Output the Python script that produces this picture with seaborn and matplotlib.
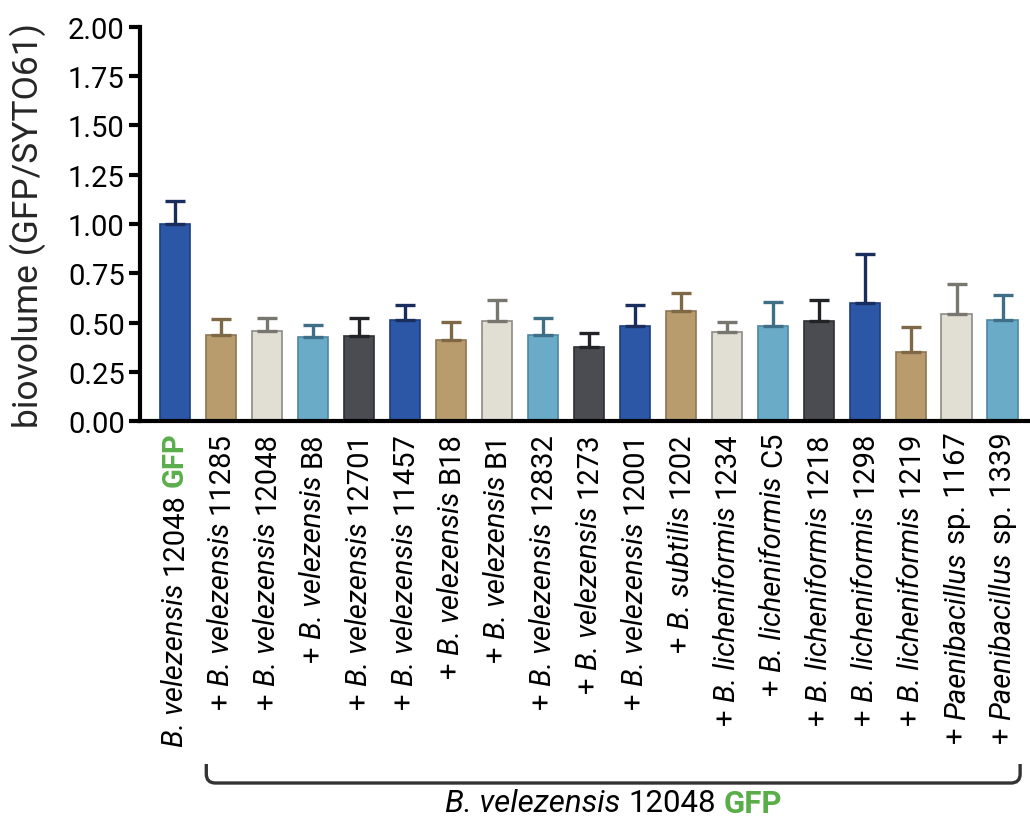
import numpy as np
import pandas as pd
import seaborn as sns
import matplotlib
matplotlib.use("Agg")
import matplotlib.pyplot as plt
from matplotlib.path import Path
from matplotlib.patches import PathPatch
import matplotlib.transforms as mtransforms

# ---------------- data ----------------
species = ["B. velezensis", "B. velezensis", "B. velezensis", "B. velezensis",
           "B. velezensis", "B. velezensis", "B. velezensis", "B. velezensis",
           "B. velezensis", "B. velezensis", "B. velezensis", "B. subtilis",
           "B. licheniformis", "B. licheniformis", "B. licheniformis",
           "B. licheniformis", "B. licheniformis", "Paenibacillus", "Paenibacillus"]
strains = ["12048", "11285", "12048", "B8", "12701", "11457", "B18", "B1", "12832",
           "1273", "12001", "1202", "1234", "C5", "1218", "1298", "1219",
           "sp. 1167", "sp. 1339"]
means = [1.00, 0.44, 0.46, 0.425, 0.435, 0.515, 0.41, 0.51, 0.44, 0.376,
         0.483, 0.557, 0.455, 0.483, 0.511, 0.601, 0.35, 0.545, 0.516]
errors = [0.115, 0.078, 0.063, 0.065, 0.090, 0.077, 0.093, 0.107, 0.084, 0.072,
          0.108, 0.096, 0.050, 0.120, 0.103, 0.248, 0.130, 0.150, 0.124]
bracket_label = ["B. velezensis", "12048", "GFP"]

fills = {"blue": "#2C57A6", "tan": "#B89C6E", "light": "#E1DED3",
         "lightblue": "#6AABC8", "dark": "#4A4C51"}
edges = {"blue": "#1D3E7E", "tan": "#8E7651", "light": "#8C8B86",
         "lightblue": "#4F86A2", "dark": "#2E3034"}
errcols = {"blue": "#1A2E5E", "tan": "#7E6846", "light": "#77766F",
           "lightblue": "#3F6F86", "dark": "#222326"}

n = len(means)
order5 = ["tan", "light", "lightblue", "dark", "blue"]
groups = ["blue"] + [order5[(i - 1) % 5] for i in range(1, n)]
ids = [f"c{i}" for i in range(n)]

df = pd.DataFrame({"id": ids, "mean": means, "err": errors, "grp": groups})

# ---------------- style ----------------
sns.set_theme(style="ticks")
plt.rcParams["font.family"] = ["Roboto", "DejaVu Sans"]
FS = 21

fig = plt.figure(figsize=(10.3, 8.2), dpi=100)
ax = fig.add_axes([0.136, 0.485, 0.862, 0.481])

sns.barplot(data=df, x="id", y="mean", hue="id",
            palette=[fills[g] for g in groups], width=0.66, legend=False,
            ax=ax, errorbar=None, saturation=1)

for p, g in zip(ax.patches, groups):
    p.set_edgecolor(edges[g])
    p.set_linewidth(1.2)

for i, (m, e, g) in enumerate(zip(means, errors, groups)):
    ax.errorbar(i, m, yerr=[[0], [e]], fmt="none", ecolor=errcols[g],
                elinewidth=2.4, capsize=7.5, capthick=2.4, zorder=1)

ax.set_ylim(0, 2.0)
ax.set_xlim(-0.76, 18.55)
ax.set_yticks(np.arange(0, 2.01, 0.25))
ax.set_yticklabels([f"{v:.2f}" for v in np.arange(0, 2.01, 0.25)], fontsize=FS)
ax.set_xticks([])
ax.set_xlabel("")
ax.set_ylabel("biovolume (GFP/SYTO61)", fontsize=25.5)
ax.yaxis.set_label_coords(-0.106, 0.5)
for s in ["top", "right"]:
    ax.spines[s].set_visible(False)
for s in ["left", "bottom"]:
    ax.spines[s].set_linewidth(3)
    ax.spines[s].set_color("black")
ax.tick_params(axis="y", width=3, length=8, pad=3, colors="black")

fig.canvas.draw()
renderer = fig.canvas.get_renderer()
pt_per_px = 72.0 / fig.dpi

GREEN = "#5AAE4A"
def style_of(kind):
    if kind == "it":
        return dict(fontstyle="italic", color="black")
    if kind == "gfp":
        return dict(fontweight="bold", color=GREEN)
    return dict(color="black")

# ---------------- rotated tick labels built from pieces ----------------
for i in range(n):
    if i == 0:
        pieces = [(species[i], "it"), (strains[i], "n"), ("GFP", "gfp")]
    else:
        pieces = [("+", "n"), (species[i], "it"), (strains[i], "n")]
    off = 7.0
    rev = list(reversed(pieces))
    for k, (txt, kind) in enumerate(rev):
        t = ax.annotate(txt, xy=(i, 0), xycoords=("data", "axes fraction"),
                        xytext=(0, -off), textcoords="offset points",
                        rotation=90, ha="center", va="top", fontsize=FS,
                        **style_of(kind))
        bb = t.get_window_extent(renderer)
        nxt_it = k + 1 < len(rev) and rev[k + 1][1] == "it"
        off += bb.height * pt_per_px + (6.5 if nxt_it else 4.5)

# ---------------- bracket ----------------
trans = mtransforms.blended_transform_factory(ax.transData, fig.transFigure)
xl, xr = 1 - 0.32, 18 + 0.38
ytop, ybot = 1 - 765 / 820, 1 - 784 / 820
rx, ry = 0.2, 0.011
verts = [(xl, ytop), (xl, ybot + ry), (xl, ybot), (xl + rx, ybot),
         (xr - rx, ybot), (xr, ybot), (xr, ybot + ry), (xr, ytop)]
codes = [Path.MOVETO, Path.LINETO, Path.CURVE3, Path.CURVE3,
         Path.LINETO, Path.CURVE3, Path.CURVE3, Path.LINETO]
ax.add_patch(PathPatch(Path(verts, codes), transform=trans, fill=False,
                       lw=2.4, edgecolor="#333333", clip_on=False))

# bracket label (horizontal, pieces)
BFS = 22.5
kinds = ["it", "n", "gfp"]
widths = []
for txt, kind in zip(bracket_label, kinds):
    t = fig.text(0, 0, txt, fontsize=BFS, **style_of(kind))
    widths.append(t.get_window_extent(renderer).width)
    t.remove()
gaps = [9, 7]
total = sum(widths) + sum(gaps)
xc_px = ax.transData.transform(((xl + xr) / 2, 0))[0]
x0 = xc_px - total / 2
for j, ((txt, kind), w) in enumerate(zip(zip(bracket_label, kinds), widths)):
    fig.text(x0 / fig.bbox.width, 1 - 804 / 820, txt, fontsize=BFS,
             ha="left", va="center", **style_of(kind))
    if j < len(gaps):
        x0 += w + gaps[j]

fig.savefig("out.png", dpi=100)
